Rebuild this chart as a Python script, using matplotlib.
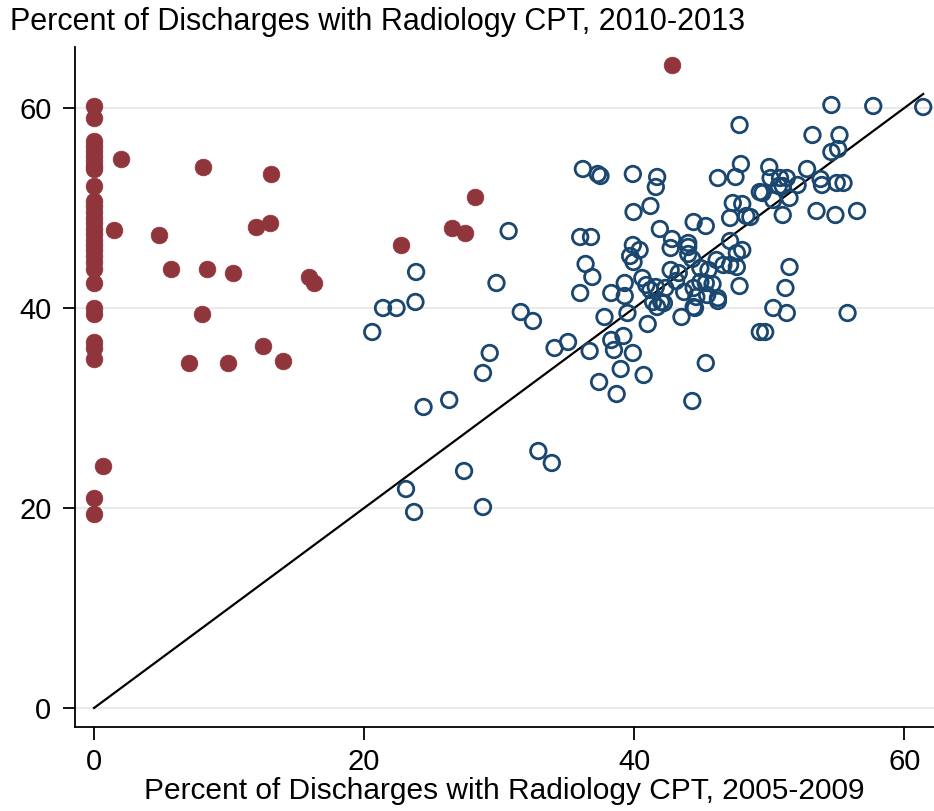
import numpy as np
import matplotlib
matplotlib.use("Agg")
import matplotlib.pyplot as plt

plt.rcParams['font.family'] = ['Liberation Sans', 'DejaVu Sans']

# hospitals with (almost) no radiology CPT coding in 2005-2009 (filled red)
red_x = [0] * 31 + [0.7, 2.0, 8.05, 13.1, 1.48, 4.79, 12.0, 13.0, 5.73, 8.4, 10.3,
                    15.9, 16.3, 7.98, 12.5, 7.0, 9.9, 14.0, 28.2, 26.5, 27.5, 22.7, 42.8]
red_y = [60.2, 59.0, 56.7, 56.2, 55.7, 55.2, 54.7, 54.2, 53.9, 52.2, 50.7, 50.2, 49.6,
         49.0, 48.5, 47.9, 47.4, 46.8, 46.3, 45.8, 45.2, 44.6, 43.9, 42.5, 40.0, 39.4,
         36.6, 36.0, 34.9, 21.0, 19.4,
         24.2, 54.9, 54.1, 53.4, 47.8, 47.3, 48.1, 48.5, 43.9, 43.9, 43.5,
         43.1, 42.5, 39.4, 36.2, 34.5, 34.5, 34.7, 51.1, 48.0, 47.5, 46.3, 64.3]

# remaining hospitals (open blue)
blue_x = [36.2, 37.3, 37.5, 39.9, 39.95, 30.7, 36.0, 36.8, 39.9, 39.7, 39.95, 36.4,
          36.9, 23.85, 29.8, 36.0, 38.3, 39.3, 39.3, 21.4, 22.4, 23.8, 20.6, 31.6,
          32.5, 37.8, 39.5, 34.1, 35.1, 36.7, 38.3, 39.2, 38.5, 39.9, 39.0, 37.4,
          38.7, 29.3, 28.8, 24.4, 26.3, 32.9, 33.9, 27.4, 23.1, 23.7, 28.8,
          41.7, 41.6, 46.2, 47.5, 47.9, 49.3, 41.2, 47.3, 48.0, 47.1, 48.3, 41.9,
          44.4, 45.3, 40.4, 42.7, 42.8, 44.0, 44.0, 44.0, 44.3, 47.1, 48.0, 47.6,
          46.1, 46.6, 47.1, 47.6, 44.9, 45.5, 42.7, 43.3, 43.1, 40.6, 40.9, 41.2,
          41.6, 42.3, 43.7, 44.4, 44.9, 45.3, 45.8, 44.6, 45.4, 46.2, 47.8, 41.4,
          42.0, 44.4, 41.7, 42.2, 41.0, 43.5, 44.5, 46.2, 40.7, 45.3, 44.3, 49.3,
          54.6, 57.7, 61.4, 53.2, 55.2, 54.6, 55.1, 50.0, 52.8, 50.1, 50.8, 51.3,
          50.7, 51.0, 52.1, 49.5, 51.5, 50.3, 53.8, 53.9, 55.0, 55.5, 51.0, 53.5,
          54.9, 56.5, 48.6, 51.5, 51.2, 50.3, 51.3, 55.8, 49.7, 47.8]
blue_y = [53.9, 53.4, 53.2, 53.4, 49.6, 47.7, 47.1, 47.1, 46.3, 45.2, 44.6, 44.4,
          43.1, 43.6, 42.5, 41.5, 41.5, 42.5, 41.2, 40.0, 40.0, 40.6, 37.6, 39.6,
          38.7, 39.1, 39.5, 36.0, 36.6, 35.7, 36.8, 37.2, 35.8, 35.5, 33.9, 32.6,
          31.4, 35.5, 33.5, 30.1, 30.8, 25.7, 24.5, 23.7, 21.9, 19.6, 20.1,
          53.1, 52.1, 53.0, 53.1, 54.4, 51.6, 50.2, 50.5, 50.4, 49.0, 49.2, 47.9,
          48.6, 48.2, 45.8, 46.0, 46.9, 46.5, 46.1, 45.4, 44.9, 46.7, 45.8, 45.5,
          44.8, 44.3, 44.3, 44.1, 44.0, 43.8, 43.8, 43.5, 42.7, 43.0, 42.3, 41.8,
          42.1, 42.0, 41.6, 42.0, 42.6, 42.5, 42.4, 41.1, 41.3, 41.0, 42.2, 40.6,
          40.6, 40.1, 40.1, 40.5, 38.4, 39.1, 40.0, 40.7, 33.3, 34.5, 30.7, 37.6,
          60.3, 60.2, 60.1, 57.3, 57.3, 55.6, 55.9, 54.1, 53.9, 53.0, 53.0, 53.0,
          52.2, 52.2, 52.3, 51.5, 51.0, 50.8, 52.9, 52.3, 52.5, 52.5, 49.3, 49.7,
          49.3, 49.7, 49.1, 44.1, 42.0, 40.0, 39.5, 39.5, 37.6, 58.3]

x_ticks = [0, 20, 40, 60]
y_ticks = [0, 20, 40, 60]

fig = plt.figure(figsize=(9.34, 8.11), dpi=100)
ax = fig.add_axes([75 / 934, 1 - 727 / 811, 859 / 934, 680 / 811])

# 45 degree line
line_end = max(blue_x)
ax.plot([0, line_end], [0, line_end], color='black', lw=1.6, zorder=2)

ax.scatter(blue_x, blue_y, s=125, facecolors='none', edgecolors='#1A476F',
           linewidths=2.0, zorder=3)
ax.scatter(red_x, red_y, s=145, color='#90353B', edgecolors='#90353B',
           linewidths=0.5, zorder=4)

ax.set_xlim(-1.41, 62.2)
ax.set_ylim(-1.9, 66.1)
ax.set_xticks(x_ticks)
ax.set_yticks(y_ticks)
ax.yaxis.grid(True, color='#EAEAEA', lw=1.5)
ax.set_axisbelow(True)

for s in ['top', 'right']:
    ax.spines[s].set_visible(False)
for s in ['left', 'bottom']:
    ax.spines[s].set_linewidth(1.3)
ax.tick_params(axis='both', length=9, width=1.3, labelsize=21, pad=6)
ax.tick_params(axis='y', pad=8)

ax.set_xlabel("Percent of Discharges with Radiology CPT, 2005-2009", fontsize=21.5,
              labelpad=1)
fig.text(0.011, 1 - 22 / 811, "Percent of Discharges with Radiology CPT, 2010-2013",
         fontsize=22, va='center', ha='left')

fig.savefig('out.png', dpi=100)
